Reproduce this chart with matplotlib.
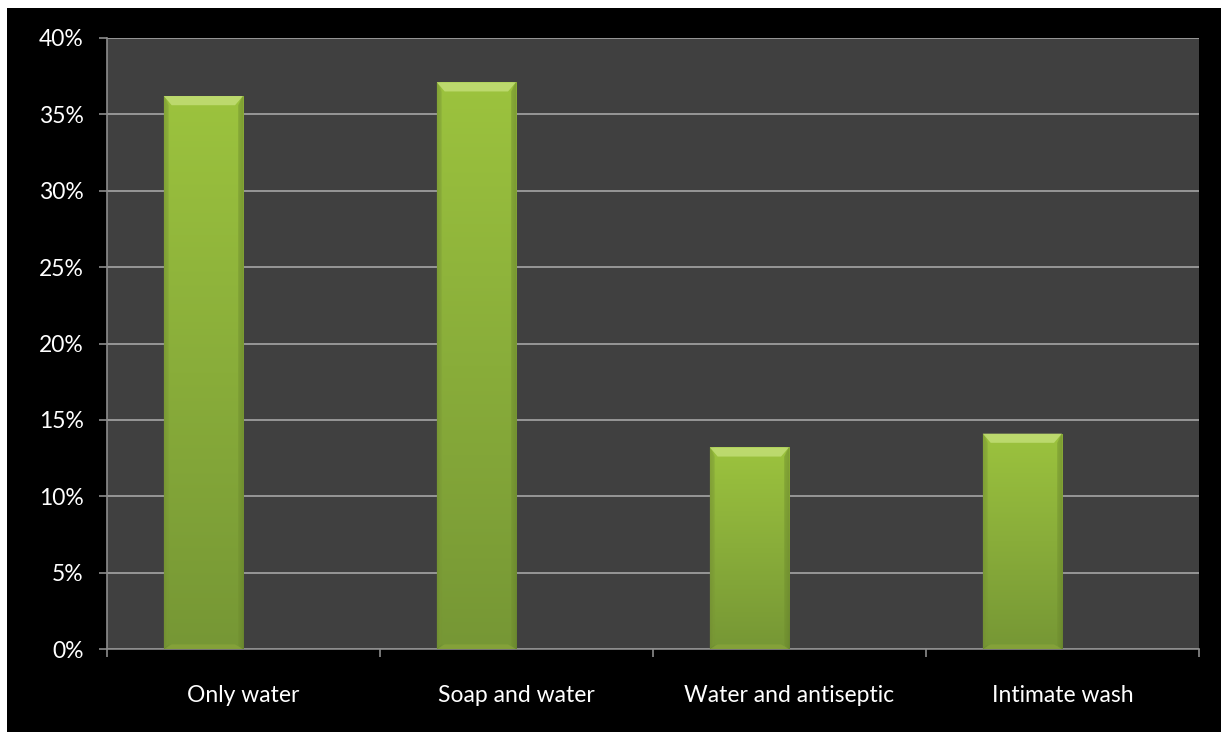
import numpy as np
import matplotlib.pyplot as plt
from matplotlib.patches import Rectangle, Polygon
from matplotlib.colors import LinearSegmentedColormap
from matplotlib.ticker import MultipleLocator, FuncFormatter

categories = ["Only water", "Soap and water", "Water and antiseptic", "Intimate wash"]
shares = [36.2, 37.1, 13.2, 14.1]  # percent of respondents

BAR_WIDTH = 0.29
BAR_SHIFT = -0.147  # first slot of a two-slot cluster

plt.rcParams['font.family'] = ['Lato', 'DejaVu Sans']

fig = plt.figure(figsize=(12.21, 7.32), dpi=100, facecolor='white')
# black chart area, leaving a thin white strip on the top and left
fig.patches.append(Rectangle((7 / 1221, 0), 1, 1 - 8 / 732, transform=fig.transFigure,
                             facecolor='black', edgecolor='none', zorder=-10))

ax = fig.add_axes([107 / 1221, 1 - 649 / 732, 1092 / 1221, 611 / 732])
ax.set_facecolor('#404040')

x = np.arange(len(categories))
bars = ax.bar(x + BAR_SHIFT, shares, width=BAR_WIDTH, color='#88ac3a',
              edgecolor='none', zorder=3)

# vertical shading plus slightly darker side edges for each bar
green = LinearSegmentedColormap.from_list('bar_green', ['#769735', '#89ad3a', '#9cc33e'])
vert = np.linspace(0, 1, 256)[:, None]
horiz = np.linspace(-1, 1, 64)[None, :]
rgba = green(vert * np.ones_like(horiz))
edge_dark = 1 - 0.12 * np.clip((np.abs(horiz) - 0.88) / 0.12, 0, 1)
rgba[..., :3] *= edge_dark[..., None]
for rect in bars:
    x0, w, h = rect.get_x(), rect.get_width(), rect.get_height()
    im = ax.imshow(rgba, extent=(x0, x0 + w, 0, h), origin='lower',
                   aspect='auto', zorder=4, interpolation='bilinear')
    im.set_clip_path(rect)
    # bevel highlight along the top, softer one along the bottom
    bev_h = 0.6
    bev_in = w * 0.1
    ax.add_patch(Polygon([(x0, h), (x0 + w, h), (x0 + w - bev_in, h - bev_h),
                          (x0 + bev_in, h - bev_h)], closed=True,
                         facecolor='#c2de76', edgecolor='none', alpha=0.85, zorder=5))
    ax.add_patch(Polygon([(x0, 0), (x0 + w, 0), (x0 + w - bev_in, 0.3),
                          (x0 + bev_in, 0.3)], closed=True,
                         facecolor='#8aa63c', edgecolor='none', alpha=0.7, zorder=5))
    ax.add_patch(Polygon([(x0, h), (x0 + bev_in * 0.6, h - bev_h), (x0 + bev_in * 0.6, 0.3),
                          (x0, 0)], closed=True, facecolor='#809f38',
                         edgecolor='none', alpha=0.45, zorder=5))
    ax.add_patch(Polygon([(x0 + w, h), (x0 + w - bev_in * 0.6, h - bev_h),
                          (x0 + w - bev_in * 0.6, 0.3), (x0 + w, 0)], closed=True,
                         facecolor='#6f8d2f', edgecolor='none', alpha=0.45, zorder=5))

ax.set_xlim(-0.5, len(categories) - 0.5)
ax.set_ylim(0, 40)
ax.yaxis.set_major_locator(MultipleLocator(5))
ax.yaxis.set_major_formatter(FuncFormatter(lambda v, _: f"{v:.0f}%"))
ax.grid(axis='y', color='#a6a6a6', linewidth=1.2, zorder=1)
ax.set_axisbelow(True)

# category labels centred, tick marks between categories
ax.set_xticks(x)
ax.set_xticklabels(categories)
ax.set_xticks(np.arange(-0.5, len(categories)), minor=True)
ax.tick_params(axis='x', which='major', length=0, pad=26, labelsize=16.5, labelcolor='white')
ax.tick_params(axis='x', which='minor', length=5.8, width=1.2, color='#8c8c8c')
ax.tick_params(axis='y', length=5.8, width=1.2, color='#8c8c8c', pad=11,
               labelsize=16.5, labelcolor='white')

for side in ('top', 'right'):
    ax.spines[side].set_visible(False)
for side in ('left', 'bottom'):
    ax.spines[side].set_color('#8c8c8c')
    ax.spines[side].set_linewidth(1.2)

fig.savefig('out.png', dpi=100, facecolor=fig.get_facecolor())
